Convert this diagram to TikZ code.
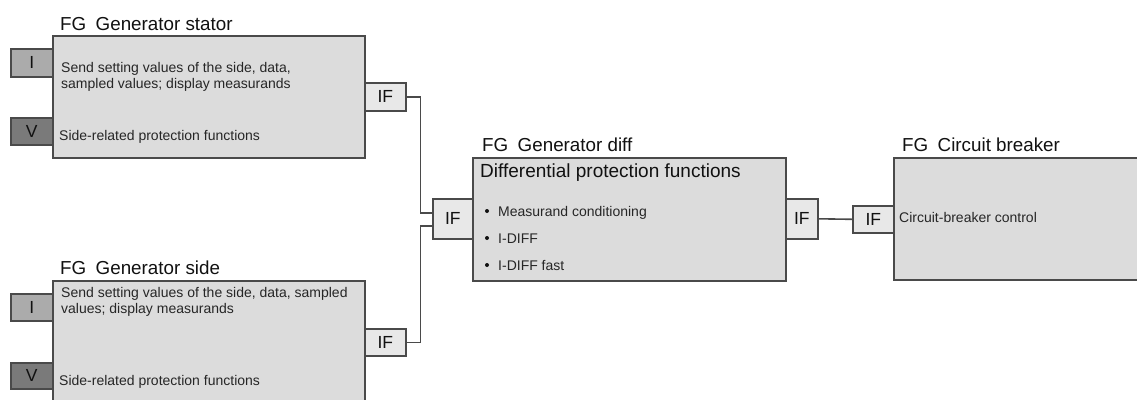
\documentclass[tikz,border=0pt]{standalone}
\usepackage{fontspec}
\setmainfont{Liberation Sans}
\definecolor{boxgray}{HTML}{DCDCDC}
\definecolor{edgegray}{HTML}{4A4A4A}
\definecolor{ifgray}{HTML}{E8E8E8}
\definecolor{igray}{HTML}{ABABAB}
\definecolor{vgray}{HTML}{7A7A7A}
\definecolor{bodytext}{HTML}{262626}
\definecolor{titletext}{HTML}{111111}
\tikzset{
  fgbox/.style={draw=edgegray, fill=boxgray, line width=1.9pt, inner sep=0pt, anchor=north west},
  iftab/.style={draw=edgegray, fill=ifgray, line width=1.6pt, inner sep=0pt, anchor=north west,
                font=\fontsize{17.5}{19}\selectfont, text=titletext},
  itab/.style={draw=edgegray, fill=igray, line width=1.6pt, inner sep=0pt, anchor=north west,
               font=\fontsize{17.5}{19}\selectfont, text=titletext},
  vtab/.style={itab, fill=vgray},
  fgtitle/.style={anchor=base west, inner sep=0pt, text=titletext, font=\fontsize{18.8}{20}\selectfont},
  body/.style={anchor=north west, inner sep=0pt, align=left, text=bodytext,
               font=\fontsize{14}{15.5}\selectfont},
  bodyline/.style={anchor=base west, inner sep=0pt, text=bodytext, font=\fontsize{14}{15.5}\selectfont},
  dot/.style={circle, fill=titletext, inner sep=0pt, minimum size=4pt},
  conn/.style={draw=edgegray, line width=1.6pt}
}
\begin{document}
\begin{tikzpicture}[x=1pt, y=-1pt]
\useasboundingbox (0,0) rectangle (1137,399);
\clip (0,0) rectangle (1137,399);
\fill[white] (0,0) rectangle (1137,399);

% ---------- FG Generator stator ----------
\node[itab, minimum width=42pt, minimum height=28pt] (sI) at (10,48) {I};
\node[vtab, minimum width=42pt, minimum height=27pt] (sV) at (10,117) {V};
\node[fgbox, minimum width=312pt, minimum height=122pt] (stator) at (52,35) {};
\node[iftab, minimum width=41pt, minimum height=28pt] (sIF) at (364,82) {IF};
\node[fgtitle] (statorT) at (60,30) {FG\hspace{0.5em}Generator stator};
\node[body] (statorA) at (61,62.5) {Send setting values of the side, data,\\sampled values; display measurands};
\node[bodyline] (statorB) at (59,140) {Side-related protection functions};

% ---------- FG Generator side ----------
\node[itab, minimum width=42pt, minimum height=27pt] (gI) at (10,293) {I};
\node[vtab, minimum width=42pt, minimum height=26pt] (gV) at (10,362) {V};
\node[fgbox, minimum width=312pt, minimum height=140pt] (side) at (52,280) {};
\node[iftab, minimum width=41pt, minimum height=27pt] (gIF) at (364,328) {IF};
\node[fgtitle] (sideT) at (60,274) {FG\hspace{0.5em}Generator side};
\node[body] (sideA) at (61,287.5) {Send setting values of the side, data, sampled\\values; display measurands};
\node[bodyline] (sideB) at (59,385) {Side-related protection functions};

% ---------- FG Generator diff ----------
\node[fgbox, minimum width=313pt, minimum height=123pt] (diff) at (472,157) {};
\node[iftab, minimum width=40pt, minimum height=40pt] (dIFl) at (432,198) {IF};
\node[iftab, minimum width=32pt, minimum height=40pt] (dIFr) at (785,198) {IF};
\node[fgtitle] (diffT) at (482,151) {FG\hspace{0.5em}Generator diff};
\node[fgtitle, font=\fontsize{19}{21}\selectfont] (diffH) at (480,177) {Differential protection functions};
\node[dot] (b1) at (487,211) {};
\node[bodyline] (diff1) at (498,216) {Measurand conditioning};
\node[dot] (b2) at (487,238) {};
\node[bodyline] (diff2) at (498,243) {I-DIFF};
\node[dot] (b3) at (487,265) {};
\node[bodyline] (diff3) at (498,270) {I-DIFF fast};

% ---------- FG Circuit breaker ----------
\node[fgbox, minimum width=260pt, minimum height=122pt] (cb) at (893,157) {};
\node[iftab, minimum width=41pt, minimum height=27pt] (cIF) at (852,205) {IF};
\node[fgtitle] (cbT) at (902,151) {FG\hspace{0.5em}Circuit breaker};
\node[bodyline] (cbA) at (899,222) {Circuit-breaker control};

% ---------- interface links ----------
\draw[conn] (sIF.east) -- ++(14,0) |- ([yshift=6pt]dIFl.west);
\draw[conn] (gIF.east) -- ++(14,0) |- ([yshift=-7pt]dIFl.west);
\draw[conn] (dIFr.east) -- (cIF.west);
\end{tikzpicture}
\end{document}
